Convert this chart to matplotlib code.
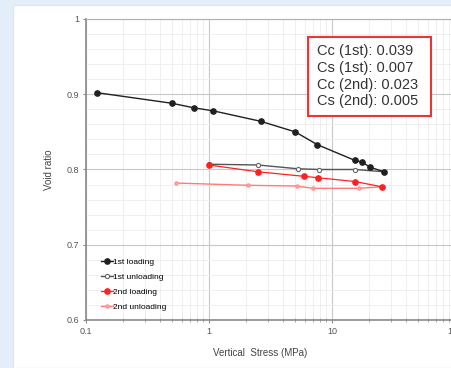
import matplotlib
matplotlib.use("Agg")
import matplotlib.pyplot as plt
import numpy as np
from matplotlib.patches import Rectangle
from matplotlib.ticker import FuncFormatter, LogLocator, MultipleLocator

plt.rcParams['font.family'] = ['Liberation Sans', 'DejaVu Sans']

# data (stress in MPa, void ratio)
load1_x = [0.124, 0.50, 0.75, 1.08, 2.64, 5.02, 7.6, 15.4, 17.5, 20.4, 26.5]
load1_e = [0.902, 0.888, 0.882, 0.878, 0.864, 0.850, 0.833, 0.812, 0.810, 0.803, 0.797]

unload1_x = [26.5, 15.4, 7.9, 5.25, 2.5, 1.0]
unload1_e = [0.797, 0.800, 0.800, 0.801, 0.806, 0.807]

load2_x = [1.0, 2.48, 5.87, 7.74, 15.4, 25.4]
load2_e = [0.806, 0.797, 0.791, 0.789, 0.784, 0.777]

unload2_x = [25.4, 16.6, 7.05, 5.15, 2.08, 0.542]
unload2_e = [0.777, 0.775, 0.775, 0.778, 0.779, 0.782]

series_names = ['1st loading', '1st unloading', '2nd loading', '2nd unloading']
coef_lines = ['Cc (1st): 0.039', 'Cs (1st): 0.007', 'Cc (2nd): 0.023', 'Cs (2nd): 0.005']

W, H = 452, 368
fig = plt.figure(figsize=(W / 100, H / 100), dpi=100)
fig.patch.set_facecolor('#e4eefa')
# white panel behind everything
fig.patches.append(Rectangle((13 / W, 0), 1, 1 - 5 / H, transform=fig.transFigure,
                             facecolor='white', edgecolor='#dde6f2', lw=1, zorder=-10))

ax = fig.add_axes([86 / W, 1 - 320 / H, (455 - 86) / W, (320 - 19) / H])
ax.set_facecolor('white')
ax.set_xscale('log')
ax.set_xlim(0.1, 100)
ax.set_ylim(0.6, 1.0)

ax.xaxis.set_major_locator(LogLocator(base=10))
ax.xaxis.set_minor_locator(LogLocator(base=10, subs=np.arange(2, 10)))
ax.xaxis.set_major_formatter(FuncFormatter(lambda v, p: '%g' % v))
ax.yaxis.set_major_locator(MultipleLocator(0.1))
ax.yaxis.set_minor_locator(MultipleLocator(0.02))
ax.yaxis.set_major_formatter(FuncFormatter(lambda v, p: '%g' % round(v, 2)))

ax.grid(which='major', color='#c8c8c8', lw=0.8)
ax.grid(which='minor', color='#ececec', lw=0.6)
ax.set_axisbelow(True)

for s in ['left', 'bottom']:
    ax.spines[s].set_color('#8a8a8a')
    ax.spines[s].set_linewidth(1.2)
ax.spines['top'].set_color('#b0b0b0')
ax.spines['right'].set_visible(False)

ax.tick_params(which='major', labelsize=6.5, labelcolor='#555555', color='#8a8a8a', length=2, pad=3)
ax.tick_params(axis='x', which='minor', direction='inout', length=3, color='#9a9a9a')
ax.tick_params(axis='y', which='minor', length=0)

# unloading first, loading drawn on top
ax.plot(unload1_x, unload1_e, '-o', color='#555555', lw=1.0, ms=3, mfc='white', mec='#666666',
        mew=0.8, label=series_names[1], zorder=3)
ax.plot(unload2_x, unload2_e, '-o', color='#ff7b7b', lw=1.0, ms=2.2, mfc='#ffb0b0', mec='#ff9090',
        label=series_names[3], zorder=3)
ax.plot(load1_x, load1_e, '-o', color='#202020', lw=1.0, ms=3.8, label=series_names[0], zorder=4)
ax.plot(load2_x, load2_e, '-o', color='#ff2020', lw=0.9, ms=3.8, label=series_names[2], zorder=4)

ax.set_xlabel('Vertical  Stress (MPa)', fontsize=7, color='#444444')
ax.xaxis.set_label_coords((260 - 86) / 369, -28 / 301)
ax.set_ylabel('Void ratio', fontsize=7, color='#444444')
ax.yaxis.set_label_coords(-32 / 369, 0.5)

handles, labels = ax.get_legend_handles_labels()
order = [labels.index(n) for n in series_names]
ax.legend([handles[i] for i in order], series_names, loc='lower left',
          bbox_to_anchor=(15 / 369, 9 / 301), frameon=False, fontsize=6,
          handlelength=1.4, handletextpad=0.1, labelspacing=0.85, borderpad=0, borderaxespad=0)

fig.patches.append(Rectangle((308 / W, 1 - 116 / H), 123 / W, 79 / H, transform=fig.transFigure,
                             facecolor='white', edgecolor='#e83535', lw=1.5, zorder=5))
fig.text(317 / W, 1 - 44 / H, '\n'.join(coef_lines), fontsize=10.5, color='#333333',
         va='top', ha='left', linespacing=1.25, zorder=6)

fig.savefig('out.png', dpi=100)
